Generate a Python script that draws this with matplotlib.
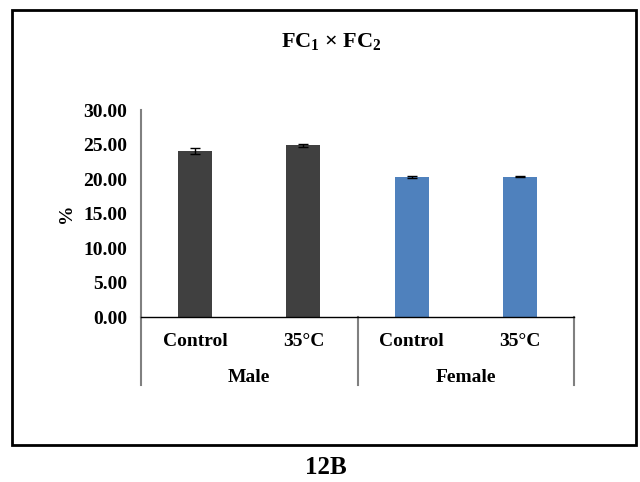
import matplotlib
matplotlib.use("Agg")
import matplotlib.pyplot as plt
from matplotlib.lines import Line2D
from matplotlib.patches import Rectangle

categories = ["Control", "35°C", "Control", "35°C"]
groups = ["Male", "Female"]
values = [24.1, 24.9, 20.3, 20.3]
errors = [0.45, 0.2, 0.15, 0.08]
colors = ["#404040", "#404040", "#4F81BD", "#4F81BD"]
yticks = [0, 5, 10, 15, 20, 25, 30]

plt.rcParams['font.family'] = ['Liberation Serif', 'DejaVu Serif']
plt.rcParams['font.weight'] = 'bold'
plt.rcParams['mathtext.fontset'] = 'custom'
plt.rcParams['mathtext.rm'] = 'Liberation Serif:bold'
plt.rcParams['mathtext.bf'] = 'Liberation Serif:bold'
plt.rcParams['mathtext.it'] = 'Liberation Serif:bold'

fig = plt.figure(figsize=(6.4, 4.82), dpi=100)
W, H = 640, 482
ax = fig.add_axes([141/W, 1-317/H, 433/W, 207/H])

FS = 14

x = list(range(len(values)))
ax.bar(x, values, width=0.315, color=colors, zorder=2)
ax.errorbar(x, values, yerr=errors, fmt='none', ecolor='black', elinewidth=1, capsize=3.5, capthick=1, zorder=3)

ax.set_xlim(-0.5, 3.5)
ax.set_ylim(0, 30)
ax.set_yticks(yticks)
ax.set_yticklabels([f"{v:.2f}" for v in yticks], fontsize=FS, fontweight='bold')
ax.tick_params(axis='y', length=0, pad=10)
ax.set_xticks([])
for s in ['top', 'right']:
    ax.spines[s].set_visible(False)
ax.spines['left'].set_color('#808080')
ax.spines['left'].set_linewidth(1.5)
ax.spines['bottom'].set_color('black')
ax.spines['bottom'].set_linewidth(1)
ax.set_ylabel('%', fontsize=FS, fontweight='bold', labelpad=6)

# category labels
for i, c in enumerate(categories):
    ax.text(i, -3.6, c, ha='center', va='center', fontsize=FS, fontweight='bold',
            transform=ax.transData, clip_on=False)
for g, gi in enumerate(groups):
    ax.text(g*2 + 0.5, -8.7, gi, ha='center', va='center', fontsize=FS, fontweight='bold',
            transform=ax.transData, clip_on=False)
# separators
for xs in [-0.5, 1.5, 3.5]:
    ax.add_line(Line2D([xs, xs], [0, -9.8], color='#808080', lw=1.5, clip_on=False))

fig.text(331/W, 1-42/H, r'FC$_\mathrm{1}$ × FC$_\mathrm{2}$', ha='center', va='center',
         fontsize=16, fontweight='bold')

# outer frame
fig.add_artist(Rectangle((12/W, 1-445/H), (636-12)/W, (445-10)/H, fill=False,
                         edgecolor='black', lw=2, transform=fig.transFigure))
fig.text(326/W, 1-467/H, '12B', ha='center', va='center', fontsize=18, fontweight='bold')

fig.savefig('out.png', dpi=100)
